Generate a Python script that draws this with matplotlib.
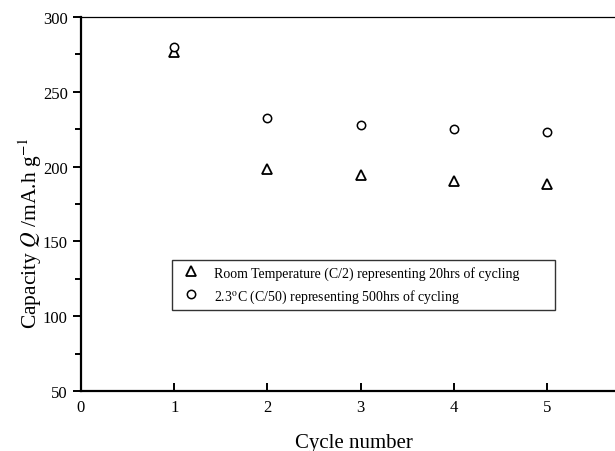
import matplotlib
matplotlib.use("Agg")
import matplotlib.pyplot as plt
from matplotlib.ticker import MultipleLocator

plt.rcParams['font.family'] = ['Liberation Serif', 'DejaVu Serif']
plt.rcParams['mathtext.fontset'] = 'stix'

cycles = [1, 2, 3, 4, 5]
room_temp = [276.5, 198.5, 194.5, 190.5, 188.5]
low_temp = [280, 232.5, 228, 225, 223]
label_room = "Room Temperature (C/2) representing 20hrs of cycling"
label_low = "2.3$^{\\mathrm{o}}$C (C/50) representing 500hrs of cycling"

fig = plt.figure(figsize=(6.15, 4.52), dpi=100)
ax = fig.add_axes([0.1317, 0.1327, 0.8683, 0.8274])

ax.plot(cycles, room_temp, linestyle='none', marker='^', markersize=7,
        markerfacecolor='white', markeredgecolor='black', markeredgewidth=1.3,
        label=label_room)
ax.plot(cycles, low_temp, linestyle='none', marker='o', markersize=6,
        markerfacecolor='white', markeredgecolor='black', markeredgewidth=1.1,
        label=label_low)

ax.set_xlim(0, 5.73)
ax.set_ylim(50, 300)
ax.xaxis.set_major_locator(MultipleLocator(1))
ax.yaxis.set_major_locator(MultipleLocator(50))
ax.yaxis.set_minor_locator(MultipleLocator(25))

ax.spines['right'].set_visible(False)
ax.spines['left'].set_linewidth(1.6)
ax.spines['bottom'].set_linewidth(1.6)
ax.spines['top'].set_linewidth(0.9)

ax.tick_params(axis='y', which='both', direction='out', labelsize=12, width=1.4)
ax.tick_params(axis='y', which='major', length=6)
ax.tick_params(axis='y', which='minor', length=4)
ax.tick_params(axis='x', direction='in', labelsize=12, width=1.4, length=6, pad=6)

ax.set_xlabel("Cycle number", fontsize=15)
ax.xaxis.set_label_coords(0.511, -0.113)
ax.set_ylabel("Capacity $Q$ /mA.h g$^{-1}$", fontsize=15.5)
ax.yaxis.set_label_coords(-0.07, 0.425)

leg = ax.legend(loc='upper left', bbox_to_anchor=(0.1704, 0.0, 0.717, 0.3503),
                mode='expand', borderaxespad=0, fontsize=10,
                frameon=True, fancybox=False, edgecolor='black',
                handlelength=1.9, handletextpad=0.75, borderpad=0.4,
                labelspacing=0.55)
leg.get_frame().set_linewidth(1.0)

fig.savefig("out.png", dpi=100)
